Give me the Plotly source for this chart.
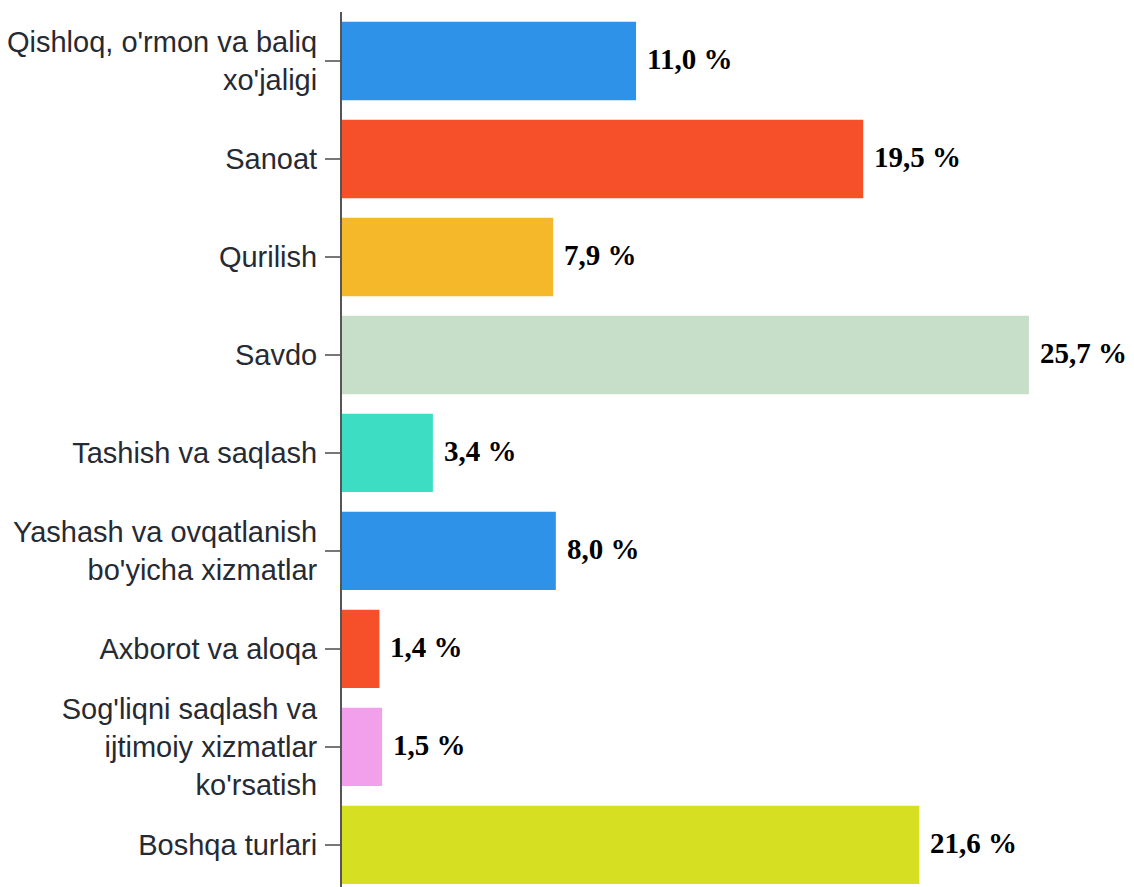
import plotly.graph_objects as go

categories = [
    "Qishloq, o'rmon va baliq<br>xo'jaligi",
    "Sanoat",
    "Qurilish",
    "Savdo",
    "Tashish va saqlash",
    "Yashash va ovqatlanish<br>bo'yicha xizmatlar",
    "Axborot va aloqa",
    "Sog'liqni saqlash va<br>ijtimoiy xizmatlar<br>ko'rsatish",
    "Boshqa turlari",
]
values = [11.0, 19.5, 7.9, 25.7, 3.4, 8.0, 1.4, 1.5, 21.6]
value_labels = ["11,0 %", "19,5 %", "7,9 %", "25,7 %", "3,4 %", "8,0 %", "1,4 %", "1,5 %", "21,6 %"]
colors = ["#2E93E8", "#F5502A", "#F5B82B", "#C7DFC8", "#3DDDC4",
          "#2E93E8", "#F5502A", "#F2A0EC", "#D7DF23"]

fig = go.Figure()
fig.add_trace(go.Bar(
    x=values, y=categories, orientation="h",
    marker=dict(color=colors, line=dict(width=0)),
    width=0.8, hoverinfo="x+y",
))

for v, c, t in zip(values, categories, value_labels):
    fig.add_annotation(
        x=v, y=c, text="<b>" + t + "</b>", showarrow=False,
        xanchor="left", yanchor="middle", xshift=9, yshift=2,
        font=dict(family="Liberation Serif", size=29, color="#000000"),
    )

fig.update_layout(
    width=1126, height=879,
    margin=dict(l=334, r=0, t=4, b=0),
    paper_bgcolor="white", plot_bgcolor="white",
    showlegend=False,
    font=dict(family="Liberation Sans", size=29, color="#262a33"),
)
fig.update_xaxes(
    range=[0, 29.63], showgrid=False, zeroline=False,
    showticklabels=False, ticks="", showline=False, fixedrange=True,
)
fig.update_yaxes(
    type="category", categoryorder="array", categoryarray=categories,
    range=[8.43, -0.5], showgrid=False, zeroline=False,
    showline=True, linecolor="#555555", linewidth=2,
    ticks="outside", ticklen=15, tickcolor="#777777", tickwidth=2,
    ticklabelstandoff=2,
    tickfont=dict(family="Liberation Sans", size=29, color="#262a33"),
    fixedrange=True,
)

fig.write_html("out.html")
